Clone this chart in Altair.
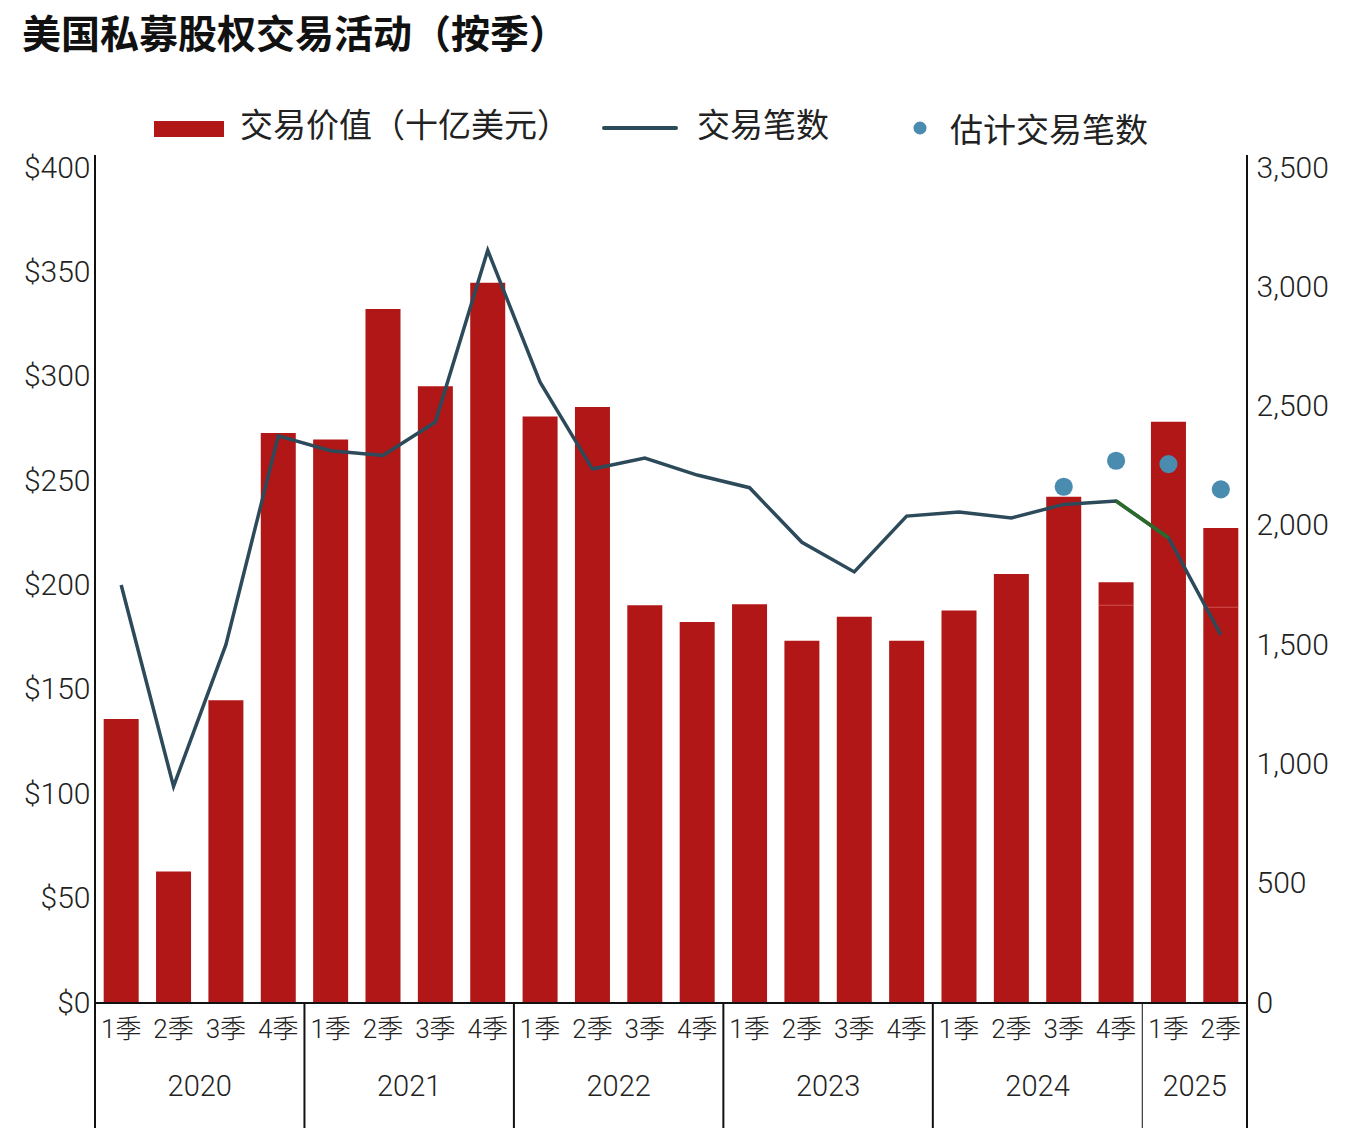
import altair as alt
import pandas as pd

# ---------------- data ----------------
quarters = ["1季", "2季", "3季", "4季"] * 5 + ["1季", "2季"]
years = ["2020", "2021", "2022", "2023", "2024", "2025"]
year_of_quarter = [y for y in years[:5] for _ in range(4)] + ["2025", "2025"]
deal_value = [136, 63, 145, 273, 270, 332.5, 295.5, 345, 281, 285.5, 190.5, 182.5,
              191, 173.5, 185, 173.5, 188, 205.5, 242.5, 201.5, 278.5, 227.5]
deal_count = [1752, 908, 1502, 2377, 2315, 2295, 2435, 3155, 2602, 2238, 2284, 2213,
              2160, 1931, 1807, 2041, 2058, 2033, 2090, 2104, 1950, 1543]
est_idx = [18, 19, 20, 21]
est_count = [2164, 2273, 2259, 2153]
inner_idx = [19, 21]
inner_value = [190.5, 189.6]
green_idx = [19, 20]
year_boundaries = [3.5, 7.5, 11.5, 15.5, 19.5]
year_boundary_width = [2, 2, 2, 2, 1]
year_centers = [1.5, 5.5, 9.5, 13.5, 17.5, 20.5]

title_text = "美国私募股权交易活动（按季）"
legend_labels = ["交易价值（十亿美元）", "交易笔数", "估计交易笔数"]

# ---------------- styling ----------------
RED = "#b11716"
NAVY = "#2c4a5a"
GREEN = "#2b6a2b"
BLUE = "#4a8bb0"
TXT = "#222222"
FONT = "Roboto, Liberation Sans, Noto Sans CJK SC, sans-serif"
CJK = "Noto Sans CJK SC, sans-serif"
W, H = 1152, 835

idx = list(range(len(deal_value)))
df = pd.DataFrame({"idx": idx, "quarter": quarters, "year": year_of_quarter,
                   "value": deal_value, "count": deal_count})
df_est = pd.DataFrame({"idx": est_idx, "count": est_count})
df_inner = pd.DataFrame({"idx": inner_idx, "value": inner_value})
df_green = pd.DataFrame({"idx": green_idx, "count": [deal_count[i] for i in green_idx]})
df_bound = pd.DataFrame({"b": year_boundaries, "w": year_boundary_width})
df_years = pd.DataFrame({"c": year_centers, "year": years})

xscale = alt.Scale(domain=[-0.5, len(deal_value) - 0.5], nice=False, zero=False, padding=0)
X = alt.X("idx:Q", scale=xscale, axis=None)

left_axis = alt.Axis(orient="left", values=list(range(0, 401, 50)), labelExpr="'$' + datum.value",
                     domain=False, ticks=False, grid=False, labelFont=FONT, labelFontSize=30,
                     labelFontWeight=300, labelColor=TXT, labelPadding=5, title=None)
right_axis = alt.Axis(orient="right", values=list(range(0, 3501, 500)),
                      labelExpr="format(datum.value, ',')",
                      domain=False, ticks=False, grid=False, labelFont=FONT, labelFontSize=30,
                      labelFontWeight=300, labelColor=TXT, labelPadding=9, title=None)
yl = alt.Scale(domain=[0, 400], nice=False)
yr = alt.Scale(domain=[0, 3500], nice=False)

bars = alt.Chart(df).mark_bar(size=35, color=RED).encode(
    x=X, y=alt.Y("value:Q", scale=yl, axis=left_axis))
inner = alt.Chart(df_inner).mark_tick(orient="horizontal", size=35, thickness=1,
                                      color="#e2676a").encode(
    x=X, y=alt.Y("value:Q", scale=yl))
left = alt.layer(bars, inner)

line = alt.Chart(df).mark_line(color=NAVY, strokeWidth=3.5).encode(
    x=X, y=alt.Y("count:Q", scale=yr, axis=right_axis))
green = alt.Chart(df_green).mark_line(color=GREEN, strokeWidth=3.5).encode(
    x=X, y=alt.Y("count:Q", scale=yr))
dots = alt.Chart(df_est).mark_circle(size=330, color=BLUE, opacity=1).encode(
    x=X, y=alt.Y("count:Q", scale=yr))
right = alt.layer(line, green, dots)

# x-axis decorations
qlabels = alt.Chart(df).mark_text(font=FONT, fontSize=26, fontWeight=300, color=TXT,
                                  baseline="middle").encode(
    x=X, y=alt.value(H + 27), text="quarter:N")
ylabels = alt.Chart(df_years).mark_text(font=FONT, fontSize=29, fontWeight=300, color=TXT,
                                        baseline="middle").encode(
    x=alt.X("c:Q", scale=xscale, axis=None), y=alt.value(H + 84), text="year:N")
seps = alt.Chart(df_bound).mark_rule(color="#111111").encode(
    x=alt.X("b:Q", scale=xscale, axis=None), y=alt.value(H), y2=alt.value(H + 125),
    strokeWidth=alt.StrokeWidth("w:Q", scale=None, legend=None))

one = pd.DataFrame({"t": [title_text]})
frame_l = alt.Chart(one).mark_rule(color="#111111", strokeWidth=2).encode(
    x=alt.value(0), y=alt.value(-13), y2=alt.value(H + 125))
frame_r = alt.Chart(one).mark_rule(color="#111111", strokeWidth=2).encode(
    x=alt.value(W), y=alt.value(-13), y2=alt.value(H + 125))
frame_b = alt.Chart(one).mark_rule(color="#111111", strokeWidth=2).encode(
    x=alt.value(0), x2=alt.value(W), y=alt.value(H))

title = alt.Chart(one).mark_text(font=CJK, fontSize=39, fontWeight="bold", color="#111111",
                                 align="left", baseline="middle").encode(
    x=alt.value(-73), y=alt.value(-132), text="t:N")

# legend
leg_rect = alt.Chart(one).mark_rect(color=RED).encode(
    x=alt.value(59), x2=alt.value(129), y=alt.value(-47), y2=alt.value(-31))
leg_line = alt.Chart(one).mark_rule(color=NAVY, strokeWidth=4, strokeCap="round").encode(
    x=alt.value(509), x2=alt.value(581), y=alt.value(-40))
leg_dot = alt.Chart(one).mark_circle(size=170, color=BLUE, opacity=1).encode(
    x=alt.value(825), y=alt.value(-40))
leg_t1 = alt.Chart(one).mark_text(font=CJK, fontSize=33, color=TXT, align="left",
                                  baseline="middle", text=legend_labels[0]).encode(
    x=alt.value(145), y=alt.value(-41))
leg_t2 = alt.Chart(one).mark_text(font=CJK, fontSize=33, color=TXT, align="left",
                                  baseline="middle", text=legend_labels[1]).encode(
    x=alt.value(602), y=alt.value(-41))
leg_t3 = alt.Chart(one).mark_text(font=CJK, fontSize=33, color=TXT, align="left",
                                  baseline="middle", text=legend_labels[2]).encode(
    x=alt.value(855), y=alt.value(-36))

chart = alt.layer(
    left, right, qlabels, ylabels, seps, frame_l, frame_r, frame_b,
    title, leg_rect, leg_line, leg_dot, leg_t1, leg_t2, leg_t3
).resolve_scale(y="independent").properties(
    width=W, height=H,
    padding={"left": 95, "top": 168, "right": 114, "bottom": 139},
    autosize=alt.AutoSizeParams(type="none"),
    background="white",
).configure_view(stroke=None)

chart.save("out.html", embed_options={"renderer": "svg", "actions": False})
